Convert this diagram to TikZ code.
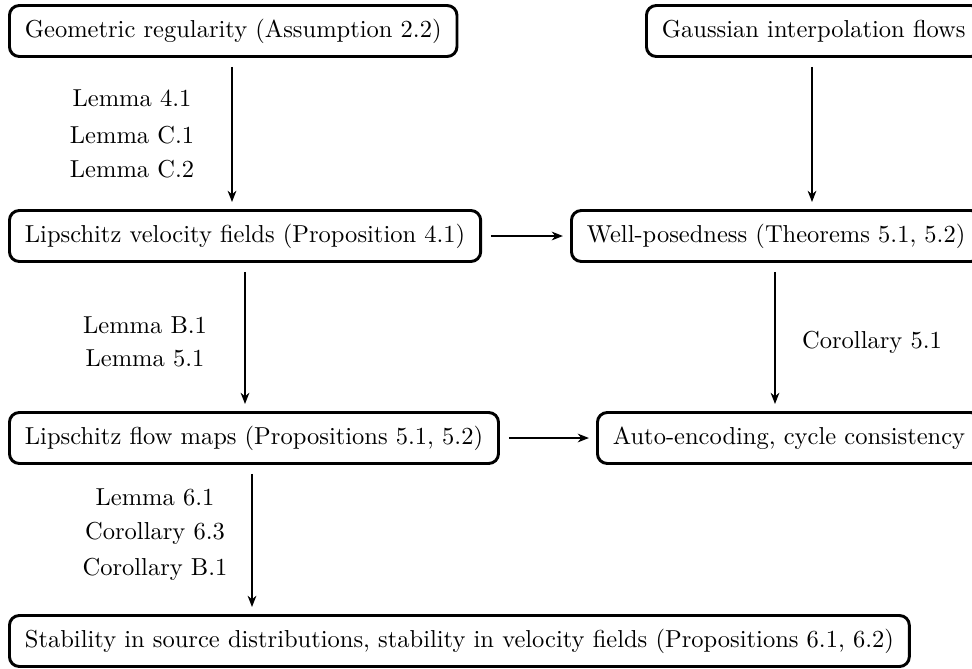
\documentclass[tikz,border=0pt]{standalone}
\usetikzlibrary{arrows.meta}

\tikzset{
  box/.style={draw, line width=1.2pt, rounded corners=4pt, minimum height=20.8pt, inner xsep=6.3pt, anchor=west},
  lbl/.style={anchor=center},
  arr/.style={-{Stealth[length=4.6pt,width=3.6pt]}, line width=0.45pt, shorten <=3.6pt, shorten >=2.9pt}
}

\begin{document}
\begin{tikzpicture}[x=0.408pt, y=-0.408pt]
\useasboundingbox (0,0) rectangle (972,668);

% Results boxes
\node[box] (geo) at (8,31) {Geometric regularity (Assumption 2.2)};
\node[box] (gauss) at (645,31) {Gaussian interpolation flows};
\node[box] (lipv) at (8,236) {Lipschitz velocity fields (Proposition 4.1)};
\node[box] (well) at (570,236) {Well-posedness (Theorems 5.1, 5.2)};
\node[box] (lipf) at (8,438) {Lipschitz flow maps (Propositions 5.1, 5.2)};
\node[box] (auto) at (596,438) {Auto-encoding, cycle consistency};
\node[box] (stab) at (8,641) {Stability in source distributions, stability in velocity fields (Propositions 6.1, 6.2)};

% Columns of the vertical links
\coordinate (c1) at (232,0);
\coordinate (c2) at (812,0);
\coordinate (c3) at (245,0);
\coordinate (c4) at (775,0);
\coordinate (c5) at (252,0);

\draw[arr] (geo.south -| c1) -- (lipv.north -| c1);
\draw[arr] (gauss.south -| c2) -- (well.north -| c2);
\draw[arr] (lipv) -- (well);
\draw[arr] (lipv.south -| c3) -- (lipf.north -| c3);
\draw[arr] (well.south -| c4) -- (auto.north -| c4);
\draw[arr] (lipf) -- (auto);
\draw[arr] (lipf.south -| c5) -- (stab.north -| c5);

% Lemmas used along each link
\foreach \t/\y [count=\idx] in {Lemma 4.1/98, Lemma C.1/135, Lemma C.2/169}
  \node[lbl] (a\idx) at (132,\y) {\t};
\foreach \t/\y [count=\idx] in {Lemma B.1/325, Lemma 5.1/358}
  \node[lbl] (b\idx) at (145,\y) {\t};
\node[lbl] (d1) at (872,342) {Corollary 5.1};
\foreach \t/\y [count=\idx] in {Lemma 6.1/497, Corollary 6.3/533, Corollary B.1/569}
  \node[lbl] (e\idx) at (155,\y) {\t};

\end{tikzpicture}
\end{document}
